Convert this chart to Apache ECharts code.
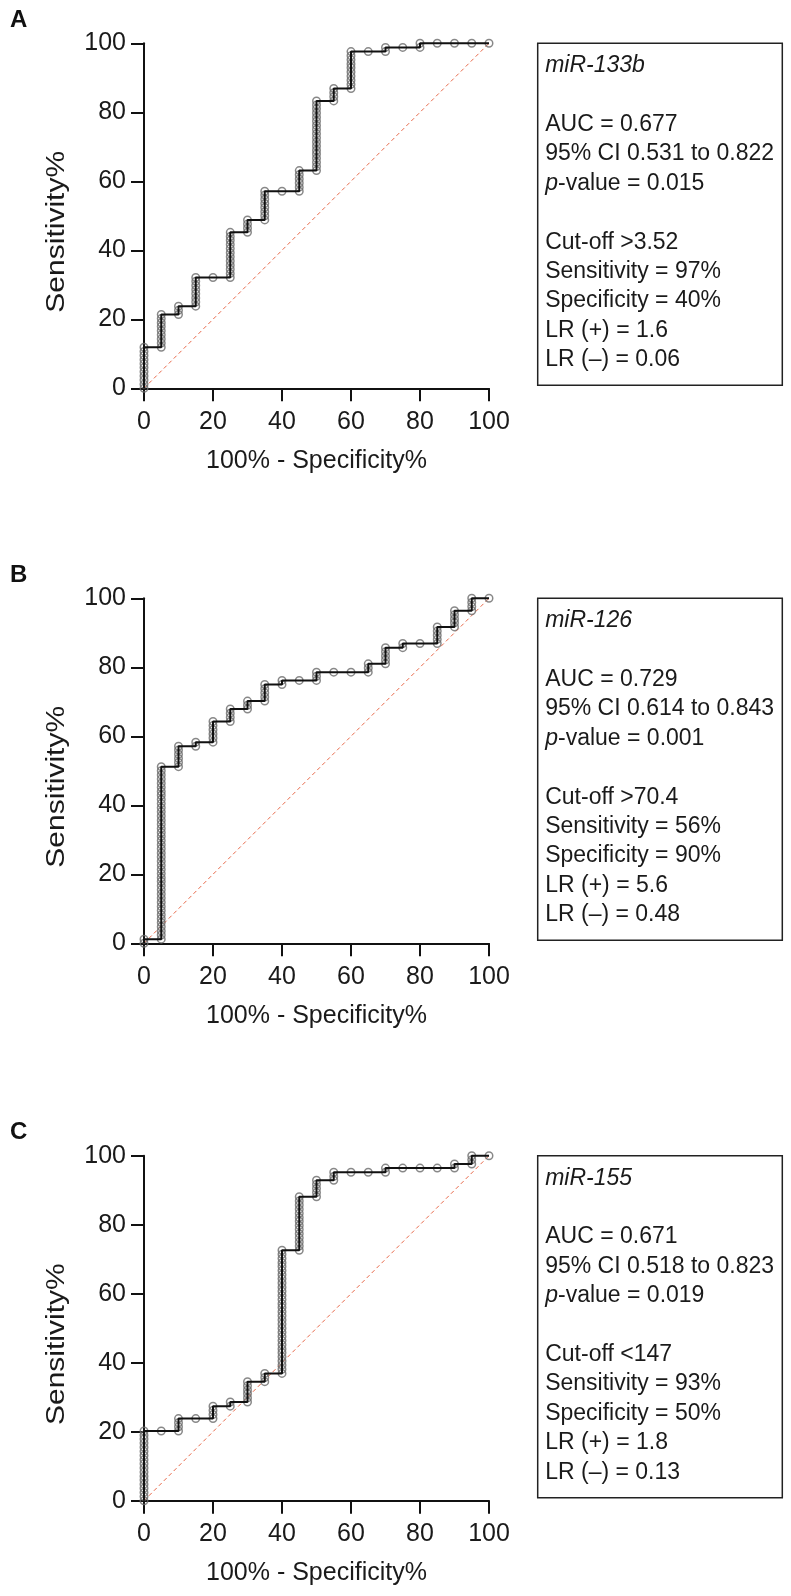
<!DOCTYPE html>
<html>
<head>
<meta charset="utf-8">
<script src="https://cdn.jsdelivr.net/npm/echarts@6/dist/echarts.min.js"></script>
<style>
html,body{margin:0;padding:0;background:#fff;}
#c{width:791px;height:1596px;}
</style>
</head>
<body>
<div id="c"></div>
<script>
// ---- data ----
const panelLetters = ['A', 'B', 'C'];
const xTicks = [0, 20, 40, 60, 80, 100];
const xTitle = '100% - Specificity%';
const yTitle = 'Sensitivity%';

// ROC points: 100% - specificity% (x) and the run of sensitivity% values at that x
const fprA = [0, 5, 10, 15, 20, 25, 30, 35, 40, 45, 50, 55, 60, 65, 70, 75, 80, 85, 90, 95, 100];
const sensA = [
  [0, 1.2, 2.4, 3.6, 4.8, 6.0, 7.1, 8.3, 9.5, 10.7, 11.9],
  [11.9, 13.1, 14.3, 15.5, 16.7, 17.9, 19.0, 20.2, 21.4],
  [21.4, 22.6, 23.8],
  [23.8, 25.0, 26.2, 27.4, 28.6, 29.8, 31.0, 32.1],
  [32.1],
  [32.1, 33.3, 34.5, 35.7, 36.9, 38.1, 39.3, 40.5, 41.7, 42.9, 44.0, 45.2],
  [45.2, 46.4, 47.6, 48.8],
  [48.8, 50.0, 51.2, 52.4, 53.6, 54.8, 56.0, 57.1],
  [57.1],
  [57.1, 58.3, 59.5, 60.7, 61.9, 63.1],
  [63.1, 64.3, 65.5, 66.7, 67.9, 69.0, 70.2, 71.4, 72.6, 73.8, 75.0, 76.2, 77.4, 78.6, 79.8, 81.0, 82.1, 83.3],
  [83.3, 84.5, 85.7, 86.9],
  [86.9, 88.1, 89.3, 90.5, 91.7, 92.9, 94.0, 95.2, 96.4, 97.6],
  [97.6],
  [97.6, 98.8],
  [98.8],
  [98.8, 100],
  [100],
  [100],
  [100],
  [100]
];

const fprB = [0, 5, 10, 15, 20, 25, 30, 35, 40, 45, 50, 55, 60, 65, 70, 75, 80, 85, 90, 95, 100];
const sensB = [
  [0, 1.2],
  [1.2, 2.4, 3.6, 4.8, 6.0, 7.1, 8.3, 9.5, 10.7, 11.9, 13.1, 14.3, 15.5, 16.7, 17.9, 19.0, 20.2, 21.4, 22.6, 23.8, 25.0, 26.2, 27.4, 28.6, 29.8, 31.0, 32.1, 33.3, 34.5, 35.7, 36.9, 38.1, 39.3, 40.5, 41.7, 42.9, 44.0, 45.2, 46.4, 47.6, 48.8, 50.0, 51.2],
  [51.2, 52.4, 53.6, 54.8, 56.0, 57.1],
  [57.1, 58.3],
  [58.3, 59.5, 60.7, 61.9, 63.1, 64.3],
  [64.3, 65.5, 66.7, 67.9],
  [67.9, 69.0, 70.2],
  [70.2, 71.4, 72.6, 73.8, 75.0],
  [75.0, 76.2],
  [76.2],
  [76.2, 77.4, 78.6],
  [78.6],
  [78.6],
  [78.6, 79.8, 81.0],
  [81.0, 82.1, 83.3, 84.5, 85.7],
  [85.7, 86.9],
  [86.9],
  [86.9, 88.1, 89.3, 90.5, 91.7],
  [91.7, 92.9, 94.0, 95.2, 96.4],
  [96.4, 97.6, 98.8, 100],
  [100]
];

const fprC = [0, 5, 10, 15, 20, 25, 30, 35, 40, 45, 50, 55, 60, 65, 70, 75, 80, 85, 90, 95, 100];
const sensC = [
  [0, 1.2, 2.4, 3.6, 4.8, 6.0, 7.1, 8.3, 9.5, 10.7, 11.9, 13.1, 14.3, 15.5, 16.7, 17.9, 19.0, 20.2],
  [20.2],
  [20.2, 21.4, 22.6, 23.8],
  [23.8],
  [23.8, 25.0, 26.2, 27.4],
  [27.4, 28.6],
  [28.6, 29.8, 31.0, 32.1, 33.3, 34.5],
  [34.5, 35.7, 36.9],
  [36.9, 38.1, 39.3, 40.5, 41.7, 42.9, 44.0, 45.2, 46.4, 47.6, 48.8, 50.0, 51.2, 52.4, 53.6, 54.8, 56.0, 57.1, 58.3, 59.5, 60.7, 61.9, 63.1, 64.3, 65.5, 66.7, 67.9, 69.0, 70.2, 71.4, 72.6],
  [72.6, 73.8, 75.0, 76.2, 77.4, 78.6, 79.8, 81.0, 82.1, 83.3, 84.5, 85.7, 86.9, 88.1],
  [88.1, 89.3, 90.5, 91.7, 92.9],
  [92.9, 94.0, 95.2],
  [95.2],
  [95.2],
  [95.2, 96.4],
  [96.4],
  [96.4],
  [96.4],
  [96.4, 97.6],
  [97.6, 98.8, 100],
  [100]
];

const diagonal = [[0, 0], [100, 100]];

const statsA = ['{i|miR-133b}', '', 'AUC = 0.677', '95% CI 0.531 to 0.822', '{i|p}-value = 0.015', '', 'Cut-off >3.52', 'Sensitivity = 97%', 'Specificity = 40%', 'LR (+) = 1.6', 'LR (\u2013) = 0.06'];
const statsB = ['{i|miR-126}', '', 'AUC = 0.729', '95% CI 0.614 to 0.843', '{i|p}-value = 0.001', '', 'Cut-off >70.4', 'Sensitivity = 56%', 'Specificity = 90%', 'LR (+) = 5.6', 'LR (\u2013) = 0.48'];
const statsC = ['{i|miR-155}', '', 'AUC = 0.671', '95% CI 0.518 to 0.823', '{i|p}-value = 0.019', '', 'Cut-off <147', 'Sensitivity = 93%', 'Specificity = 50%', 'LR (+) = 1.8', 'LR (\u2013) = 0.13'];

// ---- build ----
const FONT = '"Liberation Sans", Arial, Helvetica, sans-serif';
const TXT = '#1a1a1a';
const panels = [
  {fpr: fprA, sens: sensA, stats: statsA},
  {fpr: fprB, sens: sensB, stats: statsB},
  {fpr: fprC, sens: sensC, stats: statsC}
];
const tops = [43.3, 598.3, 1155.7];
const PLOT_L = 144, PLOT_W = 345, PLOT_H = 345;

function flatten(fpr, sens) {
  const pts = [];
  fpr.forEach((x, i) => sens[i].forEach(y => pts.push([x, y])));
  return pts;
}

const grid = [], xAxis = [], yAxis = [], series = [], graphic = [];
panels.forEach((p, i) => {
  grid.push({left: PLOT_L, top: tops[i], width: PLOT_W, height: PLOT_H, containLabel: false, outerBoundsMode: 'none'});
  xAxis.push({
    type: 'value', gridIndex: i, min: xTicks[0], max: xTicks[xTicks.length - 1], interval: 20,
    name: xTitle, nameLocation: 'middle', nameGap: 60,
    nameTextStyle: {fontSize: 25, color: TXT, fontFamily: FONT},
    axisLine: {show: true, onZero: false, lineStyle: {color: '#111', width: 2}},
    axisTick: {show: true, inside: false, length: 13, lineStyle: {color: '#111', width: 2}},
    axisLabel: {fontSize: 25, color: TXT, fontFamily: FONT, margin: 21, hideOverlap: false},
    splitLine: {show: false}
  });
  yAxis.push({
    type: 'value', gridIndex: i, min: 0, max: 100, interval: 20,
    axisLine: {show: true, onZero: false, lineStyle: {color: '#111', width: 2}},
    axisTick: {show: true, inside: false, length: 13, lineStyle: {color: '#111', width: 2}},
    axisLabel: {fontSize: 25, color: TXT, fontFamily: FONT, margin: 18, hideOverlap: false},
    splitLine: {show: false}
  });
  const pts = flatten(p.fpr, p.sens);
  series.push({
    type: 'line', xAxisIndex: i, yAxisIndex: i, data: diagonal, showSymbol: false, silent: true,
    lineStyle: {color: '#e8694a', width: 1, type: [4, 3]}, z: 1, clip: false
  });
  series.push({
    type: 'scatter', xAxisIndex: i, yAxisIndex: i, data: pts, symbol: 'circle', symbolSize: 7.5, silent: true,
    itemStyle: {color: 'rgba(255,255,255,0)', borderColor: '#6a6a6a', borderWidth: 1.5}, z: 2, clip: false
  });
  series.push({
    type: 'line', xAxisIndex: i, yAxisIndex: i, data: pts, showSymbol: false, silent: true,
    lineStyle: {color: '#111', width: 2}, z: 3, clip: false
  });

  // panel letter
  graphic.push({type: 'text', x: 10, y: tops[i] - 35, style: {text: panelLetters[i], font: 'bold 24px ' + FONT, fill: '#111', verticalAlign: 'top'}});
  // y title
  graphic.push({type: 'text', x: 57, y: tops[i] + PLOT_H / 2 + 16, rotation: Math.PI / 2, scaleX: 1.2,
    style: {text: yTitle, font: '25px ' + FONT, fill: TXT, align: 'center', verticalAlign: 'middle'}});
  // stats box
  const bx = 537.7, by = tops[i], bw = 244.6, bh = 342;
  graphic.push({type: 'rect', shape: {x: bx, y: by, width: bw, height: bh}, style: {fill: 'none', stroke: '#222', lineWidth: 1.5}});
  p.stats.forEach((line, j) => {
    if (!line) return;
    graphic.push({type: 'text', x: bx + 7.5, y: by + 22.5 + j * 29.4,
      style: {text: line, font: '23px ' + FONT, fill: TXT, verticalAlign: 'middle',
        rich: {i: {fontStyle: 'italic', fontSize: 23, fontFamily: FONT, fill: TXT}}}});
  });
});

const chart = echarts.init(document.getElementById('c'), null, {renderer: 'canvas'});
chart.setOption({
  animation: false,
  backgroundColor: '#fff',
  textStyle: {fontFamily: FONT},
  grid, xAxis, yAxis, series, graphic
});
</script>
</body>
</html>
